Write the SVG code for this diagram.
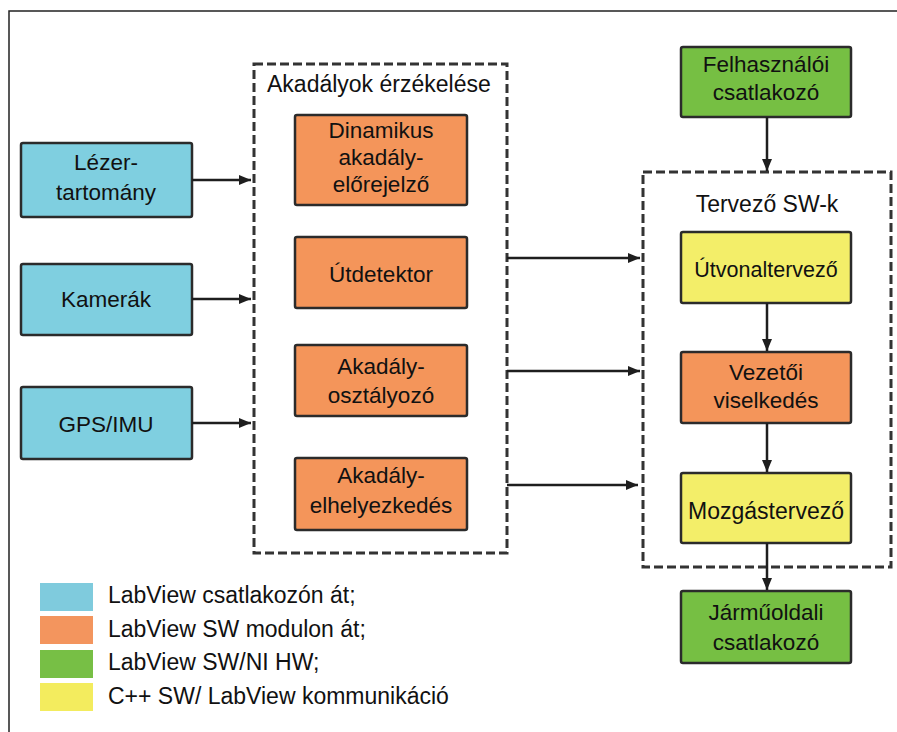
<svg xmlns="http://www.w3.org/2000/svg" width="897" height="732" viewBox="0 0 897 732">
<defs>
<marker id="ah" viewBox="0 0 12 10" refX="12" refY="5" markerWidth="12" markerHeight="10" markerUnits="userSpaceOnUse" orient="auto">
<path d="M0,0 L12,5 L0,10 Z" fill="#1e1e1e"/>
</marker>
<style>
.box{stroke:#2b2b2b;stroke-width:2.5}
.blue{fill:#7fcfe0}
.orange{fill:#f4955a}
.green{fill:#76bf43}
.yellow{fill:#f3ee69}
.dash{fill:none;stroke:#333;stroke-width:3;stroke-dasharray:9 4}
.t{font-family:"Liberation Sans",Arial,sans-serif;font-size:22.5px;fill:#111;text-anchor:middle}
.lg{font-family:"Liberation Sans",Arial,sans-serif;font-size:23px;fill:#111}
.c{stroke:#1e1e1e;stroke-width:2.5;fill:none;marker-end:url(#ah)}
</style>
</defs>
<rect width="897" height="732" fill="#fff"/>
<path d="M9,732 V11 H897" fill="none" stroke="#222" stroke-width="1.5"/>

<g id="group-akadalyok">
<rect class="dash" x="254" y="64" width="253" height="489"/>
<text class="lg" x="267" y="92">Akadályok érzékelése</text>
</g>
<g id="group-tervezo">
<rect class="dash" x="643" y="172" width="248" height="395"/>
<text class="t" x="767" y="212" style="font-size:23px">Tervező SW-k</text>
</g>

<g id="lezer"><rect class="box blue" x="21" y="143" width="171" height="74" rx="2"/><text class="t" x="106" y="170">Lézer-</text><text class="t" x="106" y="200">tartomány</text></g>
<g id="kamerak"><rect class="box blue" x="21" y="264" width="171" height="71" rx="2"/><text class="t" x="106" y="307">Kamerák</text></g>
<g id="gps"><rect class="box blue" x="21" y="387" width="171" height="72" rx="2"/><text class="t" x="106" y="432">GPS/IMU</text></g>

<g id="dinamikus"><rect class="box orange" x="295" y="115" width="172" height="90" rx="2"/><text class="t" x="381" y="138">Dinamikus</text><text class="t" x="381" y="165">akadály-</text><text class="t" x="381" y="192">előrejelző</text></g>
<g id="utdetektor"><rect class="box orange" x="295" y="237" width="172" height="71" rx="2"/><text class="t" x="381" y="282">Útdetektor</text></g>
<g id="osztalyozo"><rect class="box orange" x="295" y="345" width="172" height="71" rx="2"/><text class="t" x="381" y="374">Akadály-</text><text class="t" x="381" y="403">osztályozó</text></g>
<g id="elhelyezkedes"><rect class="box orange" x="295" y="458" width="172" height="72" rx="2"/><text class="t" x="381" y="483">Akadály-</text><text class="t" x="381" y="513">elhelyezkedés</text></g>

<g id="felhasznaloi"><rect class="box green" x="681" y="47" width="170" height="70" rx="2"/><text class="t" x="766" y="72">Felhasználói</text><text class="t" x="766" y="100">csatlakozó</text></g>
<g id="utvonaltervezo"><rect class="box yellow" x="681" y="232" width="170" height="71" rx="2"/><text class="t" x="766" y="277" style="font-size:21.5px">Útvonaltervező</text></g>
<g id="vezetoi"><rect class="box orange" x="681" y="352" width="170" height="71" rx="2"/><text class="t" x="766" y="380">Vezetői</text><text class="t" x="766" y="408">viselkedés</text></g>
<g id="mozgastervezo"><rect class="box yellow" x="681" y="473" width="170" height="70" rx="2"/><text class="t" x="766" y="519" style="font-size:23px">Mozgástervező</text></g>
<g id="jarmuoldali"><rect class="box green" x="681" y="591" width="170" height="72" rx="2"/><text class="t" x="766" y="620">Járműoldali</text><text class="t" x="766" y="650">csatlakozó</text></g>

<g id="connectors">
<line class="c" x1="192" y1="180" x2="251" y2="180"/>
<line class="c" x1="192" y1="299" x2="251" y2="299"/>
<line class="c" x1="192" y1="423" x2="251" y2="423"/>
<line class="c" x1="507" y1="258" x2="640" y2="258"/>
<line class="c" x1="507" y1="371" x2="640" y2="371"/>
<line class="c" x1="507" y1="485" x2="638" y2="485"/>
<line class="c" x1="767" y1="117" x2="767" y2="171"/>
<line class="c" x1="767" y1="303" x2="767" y2="351"/>
<line class="c" x1="767" y1="423" x2="767" y2="472"/>
<line class="c" x1="767" y1="543" x2="767" y2="590"/>
</g>

<g id="legend">
<rect x="40" y="583" width="53" height="28" fill="#7fcbdd"/>
<rect x="40" y="616" width="53" height="28" fill="#f3955e"/>
<rect x="40" y="650" width="53" height="28" fill="#77bf45"/>
<rect x="40" y="683" width="53" height="28" fill="#f3ec5e"/>
<text class="lg" x="108" y="603">LabView csatlakozón át;</text>
<text class="lg" x="108" y="637">LabView SW modulon át;</text>
<text class="lg" x="108" y="670">LabView SW/NI HW;</text>
<text class="lg" x="108" y="704">C++ SW/ LabView kommunikáció</text>
</g>
</svg>
